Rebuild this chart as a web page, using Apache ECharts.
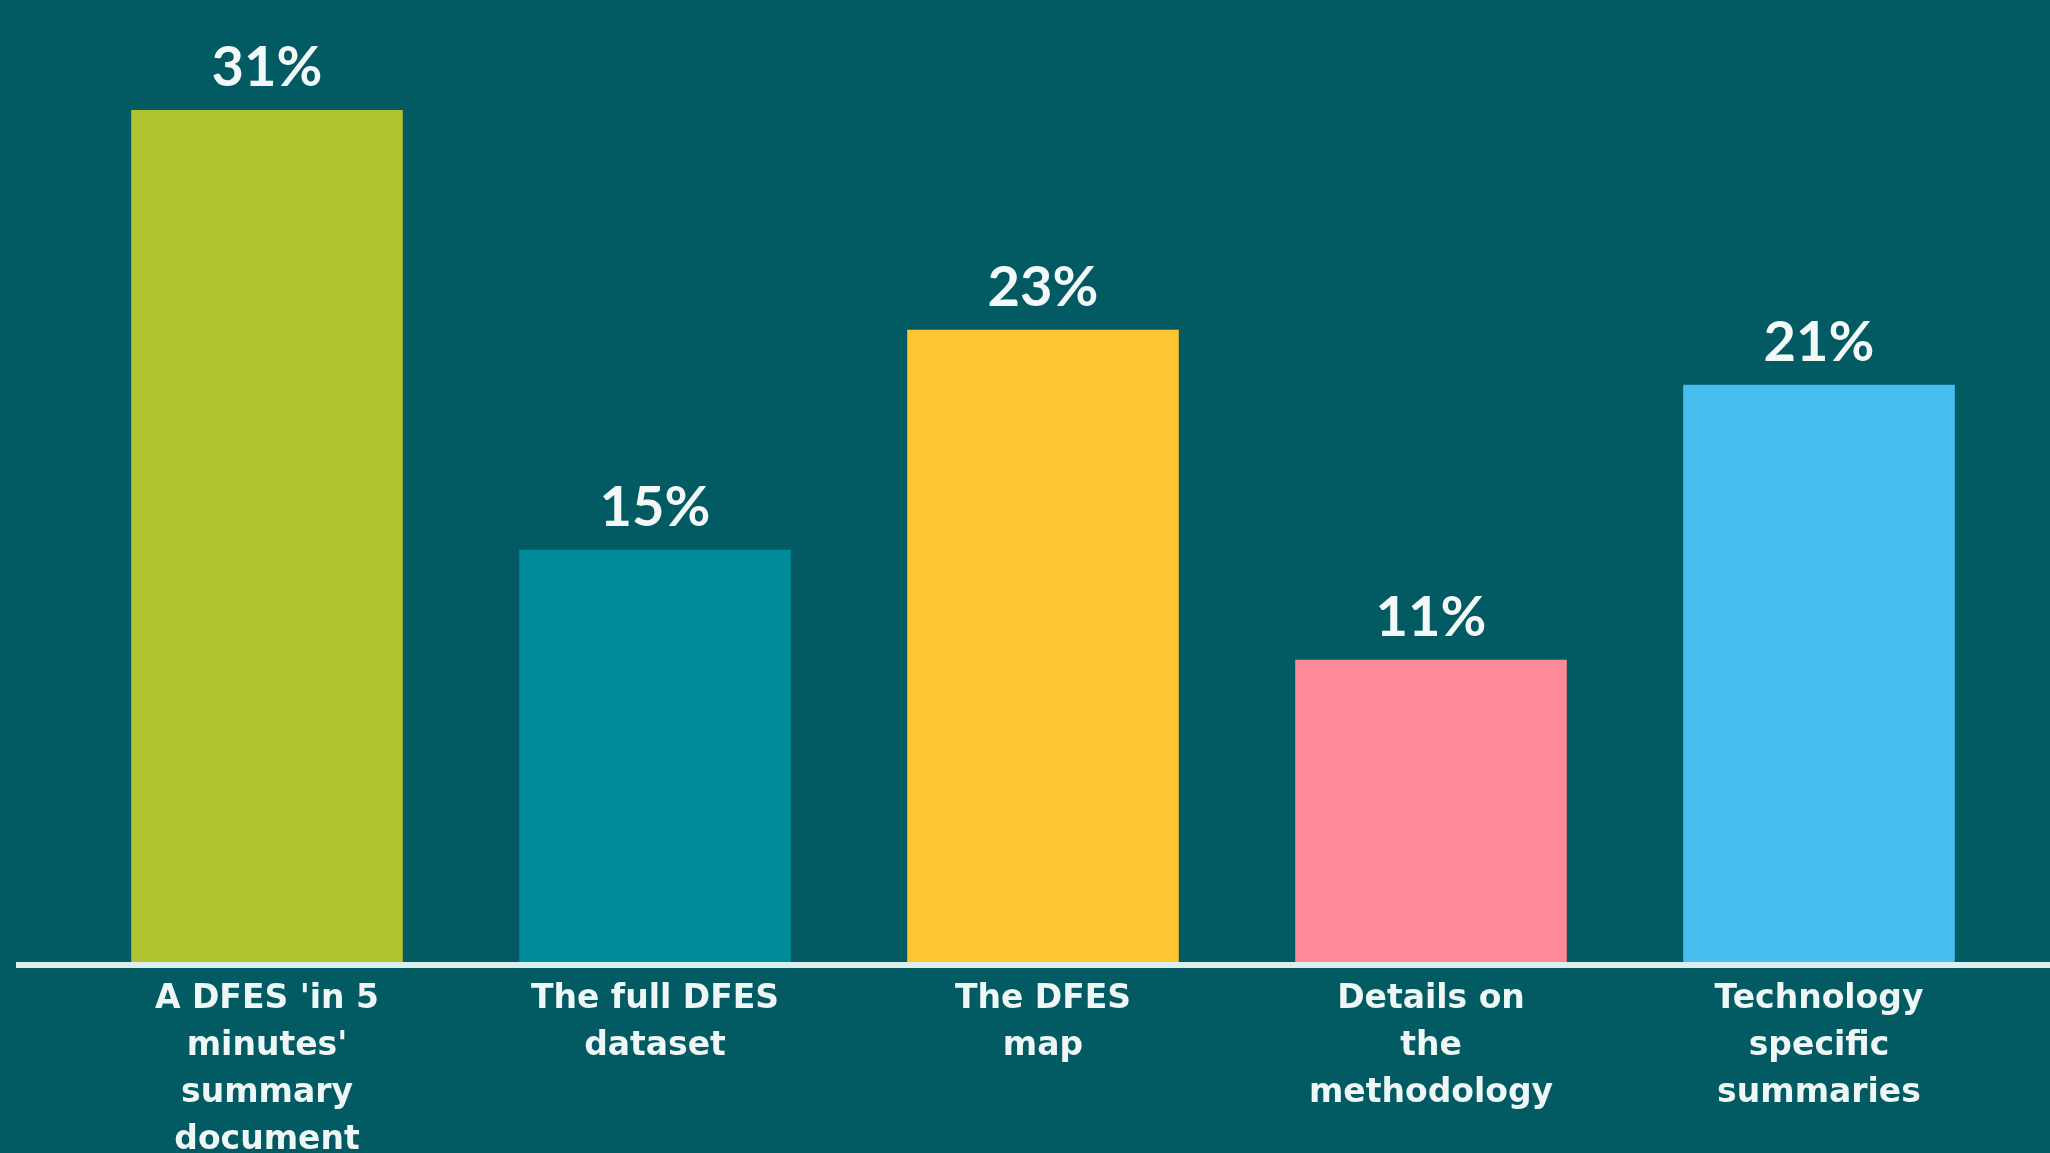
<!DOCTYPE html>
<html>
<head>
<meta charset="utf-8">
<style>
  html, body { margin: 0; padding: 0; background: #025a63; }
  #chart { width: 2050px; height: 1153px; }
</style>
<script src="https://cdn.jsdelivr.net/npm/echarts@6/dist/echarts.min.js"></script>
</head>
<body>
<div id="chart"></div>
<script>
// Which DFES outputs respondents found most useful
const categories = [
  "A DFES 'in 5\nminutes'\nsummary\ndocument",
  "The full DFES\ndataset",
  "The DFES\nmap",
  "Details on\nthe\nmethodology",
  "Technology\nspecific\nsummaries"
];
const shares = [31, 15, 23, 11, 21];
const barColors = ['#b0c22d', '#008b9b', '#fec433', '#ff8a99', '#48bdef'];

const VALUE_FONT = 'Lato, "Noto Sans", sans-serif';
const CAT_FONT = '"DejaVu Sans", "Noto Sans", sans-serif';

const chart = echarts.init(document.getElementById('chart'), null, { renderer: 'canvas' });

chart.setOption({
  backgroundColor: '#025a63',
  animation: false,
  grid: {
    left: 73, right: 37, top: 0, bottom: 191,
    containLabel: false,
    outerBoundsMode: 'none'   // let the last label line run to the bottom edge
  },
  xAxis: {
    type: 'category',
    data: categories,
    axisLine: { show: false },
    axisTick: { show: false },
    axisLabel: {
      color: '#eef7f6',
      fontFamily: CAT_FONT,
      fontSize: 33,
      fontWeight: 'bold',
      lineHeight: 47,
      margin: 14,
      interval: 0
    }
  },
  yAxis: {
    type: 'value',
    min: 0,
    max: 35,
    show: false,
    splitLine: { show: false }
  },
  series: [{
    type: 'bar',
    barCategoryGap: '30%',
    data: shares.map((v, i) => ({ value: v, itemStyle: { color: barColors[i] } })),
    label: {
      show: true,
      position: 'top',
      distance: 14,
      color: '#f2f9f8',
      fontFamily: VALUE_FONT,
      fontSize: 56,
      fontWeight: 'bold',
      formatter: p => p.value + '%'
    }
  }]
});

// Baseline rule running across the full width under the bars
const y0 = chart.convertToPixel({ yAxisIndex: 0 }, 0);
chart.setOption({
  graphic: [{
    type: 'line',
    z: 10,
    shape: { x1: 16, y1: y0 + 3, x2: 2050, y2: y0 + 3 },
    style: { stroke: '#dcefee', lineWidth: 6 }
  }]
});
</script>
</body>
</html>
